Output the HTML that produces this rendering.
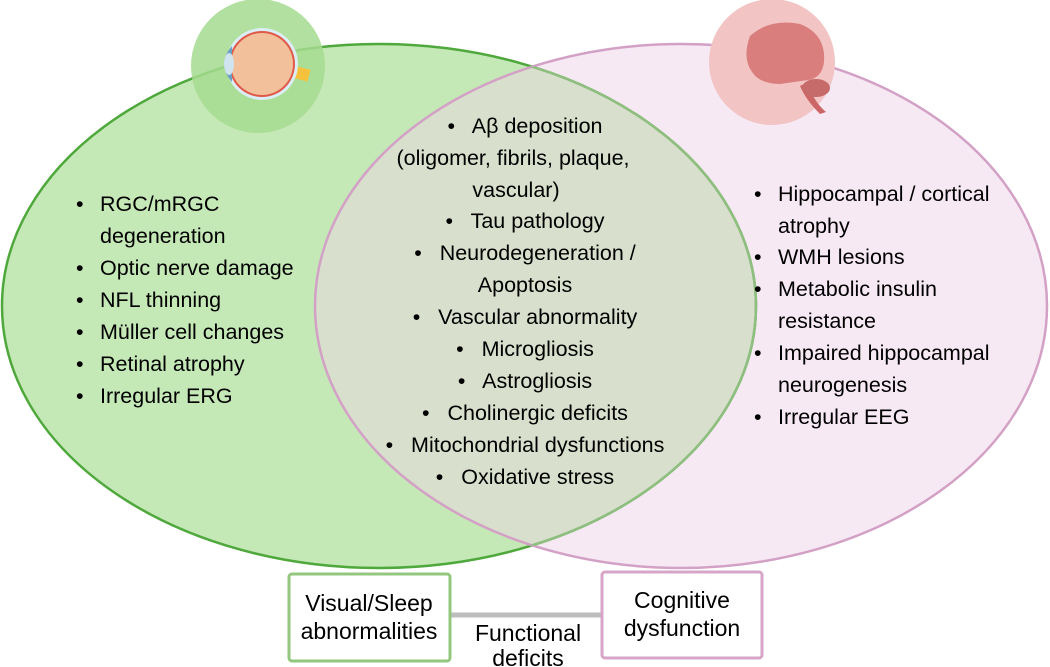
<!DOCTYPE html>
<html><head><meta charset="utf-8"><style>
html,body{margin:0;padding:0;background:#fff;}
svg{display:block;font-family:"Liberation Sans",sans-serif;}
</style></head><body>
<svg width="1050" height="667" viewBox="0 0 1050 667" xmlns="http://www.w3.org/2000/svg">
<defs>
<clipPath id="cg"><ellipse cx="379" cy="306" rx="377" ry="262"/></clipPath>
<clipPath id="cp"><ellipse cx="681" cy="306" rx="366" ry="262"/></clipPath>
</defs>
<ellipse cx="379" cy="306" rx="377" ry="262" fill="#c5e8b7"/>
<ellipse cx="681" cy="306" rx="366" ry="262" fill="#f6e9f3"/>
<ellipse cx="681" cy="306" rx="366" ry="262" fill="#d8dfcc" clip-path="url(#cg)"/>
<ellipse cx="379" cy="306" rx="377" ry="262" fill="none" stroke="#4fa83c" stroke-width="2.5"/>
<ellipse cx="681" cy="306" rx="366" ry="262" fill="none" stroke="#d3a0c6" stroke-width="2.5"/>
<ellipse cx="379" cy="306" rx="377" ry="262" fill="none" stroke="#8fbf80" stroke-width="2.5" clip-path="url(#cp)"/>
<!-- eye -->
<circle cx="258" cy="66" r="67" fill="#a5da8f" opacity="0.85"/>
<rect x="280" y="62" width="30" height="12" fill="#f6c13c" transform="rotate(15 280 68)"/>
<circle cx="262" cy="64" r="36" fill="#dceef5"/>
<circle cx="262" cy="64" r="33" fill="#e05a4a"/>
<circle cx="262" cy="64" r="31" fill="#f2c09a"/>
<path d="M232 46 Q216 64 232 82 Z" fill="#6aa0c4"/>
<ellipse cx="229" cy="64" rx="5" ry="11" fill="#cfe4ef"/>
<!-- brain -->
<circle cx="772" cy="62" r="63" fill="#f2c4c4"/>
<path d="M750 36 Q770 18 800 24 Q826 34 824 62 Q822 78 808 80 L780 84 Q760 84 752 72 Q742 58 750 36 Z" fill="#d97d7d"/>
<path d="M808 82 Q812 100 826 112 L820 114 Q806 100 800 86 Z" fill="#c66"/>
<ellipse cx="816" cy="88" rx="14" ry="9" fill="#c76a6a"/>
<g font-size="21.5" fill="#000">
<text x="76" y="211">•</text><text x="100" y="211">RGC/mRGC</text>
<text x="100" y="243">degeneration</text>
<text x="76" y="275">•</text><text x="100" y="275">Optic nerve damage</text>
<text x="76" y="307">•</text><text x="100" y="307">NFL thinning</text>
<text x="76" y="339">•</text><text x="100" y="339">Müller cell changes</text>
<text x="76" y="371">•</text><text x="100" y="371">Retinal atrophy</text>
<text x="76" y="403">•</text><text x="100" y="403">Irregular ERG</text>

<g text-anchor="middle">
<text x="525" y="133">•&#160;&#160; Aβ deposition</text>
<text x="513" y="165">(oligomer, fibrils, plaque,</text>
<text x="516" y="197">vascular)</text>
<text x="525" y="228">•&#160;&#160; Tau pathology</text>
<text x="525" y="260">•&#160;&#160; Neurodegeneration /</text>
<text x="525" y="292">Apoptosis</text>
<text x="525" y="324">•&#160;&#160; Vascular abnormality</text>
<text x="525" y="356">•&#160;&#160; Microgliosis</text>
<text x="525" y="388">•&#160;&#160; Astrogliosis</text>
<text x="525" y="420">•&#160;&#160; Cholinergic deficits</text>
<text x="525" y="452">•&#160;&#160; Mitochondrial dysfunctions</text>
<text x="525" y="484">•&#160;&#160; Oxidative stress</text>
</g>

<text x="754" y="201">•</text><text x="778" y="201">Hippocampal / cortical</text>
<text x="778" y="233">atrophy</text>
<text x="754" y="264">•</text><text x="778" y="264">WMH lesions</text>
<text x="754" y="296">•</text><text x="778" y="296">Metabolic insulin</text>
<text x="778" y="328">resistance</text>
<text x="754" y="360">•</text><text x="778" y="360">Impaired hippocampal</text>
<text x="778" y="392">neurogenesis</text>
<text x="754" y="424">•</text><text x="778" y="424">Irregular EEG</text>
</g>
<!-- boxes -->
<line x1="450" y1="615" x2="601" y2="615" stroke="#bdbdbd" stroke-width="5"/>
<rect x="289" y="574" width="161" height="87" rx="3" fill="#fff" stroke="#93c77f" stroke-width="3"/>
<rect x="602" y="572" width="160" height="86" rx="3" fill="#fff" stroke="#d6a5c8" stroke-width="3"/>
<g font-size="23" fill="#000" text-anchor="middle">
<text x="369" y="611">Visual/Sleep</text>
<text x="369" y="639">abnormalities</text>
<text x="682" y="608">Cognitive</text>
<text x="682" y="636">dysfunction</text>
<text x="528" y="641">Functional</text>
<text x="528" y="666">deficits</text>
</g>
</svg>
</body></html>
